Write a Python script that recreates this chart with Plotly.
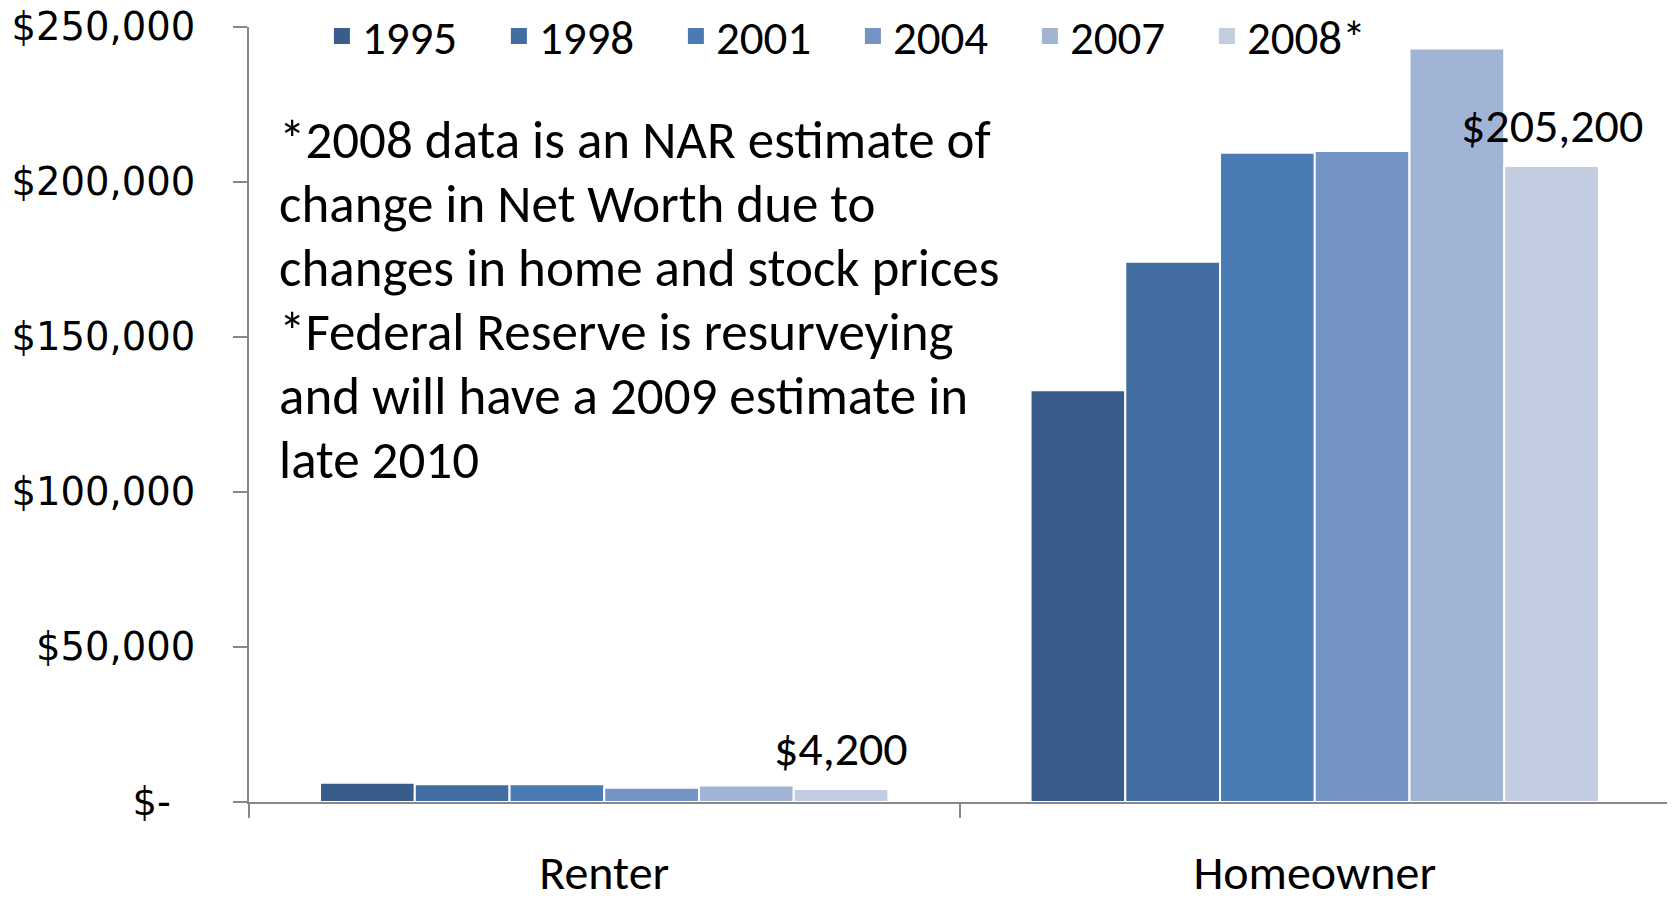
import plotly.graph_objects as go

categories = ["Renter", "Homeowner"]
years = ["1995", "1998", "2001", "2004", "2007", "2008*"]
renter = [6200, 5700, 5700, 4600, 5300, 4200]
homeowner = [132800, 174300, 209400, 210000, 243100, 205200]
colors = ["#385D8A", "#426DA0", "#4A7BB4", "#7394C4", "#A2B4D6", "#C2CDE2"]
ytick_vals = [0, 50000, 100000, 150000, 200000, 250000]
ytick_text = ["$-\u00a0\u00a0", "$50,000", "$100,000", "$150,000", "$200,000", "$250,000"]
note_lines = [
    "*2008 data is an NAR estimate of",
    "change in Net Worth due to",
    "changes in home and stock prices",
    "*Federal Reserve is resurveying",
    "and will have a 2009 estimate in",
    "late 2010",
]

FONT = "Carlito, Lato, Roboto, sans-serif"
BARGAP = 0.2

fig = go.Figure()
for i, yr in enumerate(years):
    vals = [renter[i], homeowner[i]]
    fig.add_trace(go.Bar(
        name=yr, x=categories, y=vals, legendgroup=yr, showlegend=False,
        marker=dict(color=colors[i], line=dict(color="#FFFFFF", width=2))))
    # legend entry with a larger square swatch
    fig.add_trace(go.Scatter(
        name=yr, x=[None], y=[None], mode="markers", legendgroup=yr,
        marker=dict(symbol="square", size=16, color=colors[i]),
        hoverinfo="skip", showlegend=True))

# value labels above the 2008* bars (position derived from the group layout)
last = len(years) - 1
slot = (1 - BARGAP) / len(years)
offset = -(1 - BARGAP) / 2 + (last + 0.5) * slot
for ci, vals in enumerate([renter, homeowner]):
    v = vals[last]
    fig.add_annotation(
        text=f"${v:,.0f}", xref="x", yref="y", x=ci + offset, y=v,
        xanchor="center", yanchor="middle", yshift=40, showarrow=False,
        font=dict(family=FONT, size=48, color="#000000"))

for k, line in enumerate(note_lines):
    fig.add_annotation(
        text=line, xref="paper", yref="paper",
        x=0.0195, y=0.854 - k * 0.0826, xanchor="left", yanchor="middle",
        showarrow=False, font=dict(family=FONT, size=53, color="#000000"))

fig.update_layout(
    width=1667, height=890, autosize=False,
    margin=dict(l=241, r=5, t=19, b=96, autoexpand=False),
    plot_bgcolor="#FFFFFF", paper_bgcolor="#FFFFFF",
    barmode="group", bargap=BARGAP, bargroupgap=0,
    showlegend=True,
    legend=dict(orientation="h", xref="paper", yref="container",
                x=0.0513, y=0.968, xanchor="left", yanchor="middle",
                entrywidth=132, entrywidthmode="pixels", traceorder="normal",
                itemsizing="trace",
                font=dict(family=FONT, size=47, color="#000000"),
                bgcolor="rgba(0,0,0,0)"),
    xaxis=dict(showline=True, linecolor="#888888", linewidth=2, automargin=False,
               ticks="outside", tickson="boundaries", ticklen=14, tickcolor="#888888",
               tickwidth=1.5, ticklabelstandoff=27, ticklabeloverflow="allow",
               tickfont=dict(family=FONT, size=48, color="#000000"), showgrid=False),
    yaxis=dict(range=[0, 250000], showline=True, linecolor="#888888", linewidth=2,
               automargin=False, ticklabeloverflow="allow",
               ticks="outside", ticklen=14, tickcolor="#888888", tickwidth=1.5,
               tickvals=ytick_vals, ticktext=ytick_text, ticklabelstandoff=30,
               tickfont=dict(family="DejaVu Sans", size=38.5, color="#000000"),
               showgrid=False, zeroline=False),
)

fig.write_html("out.html")
